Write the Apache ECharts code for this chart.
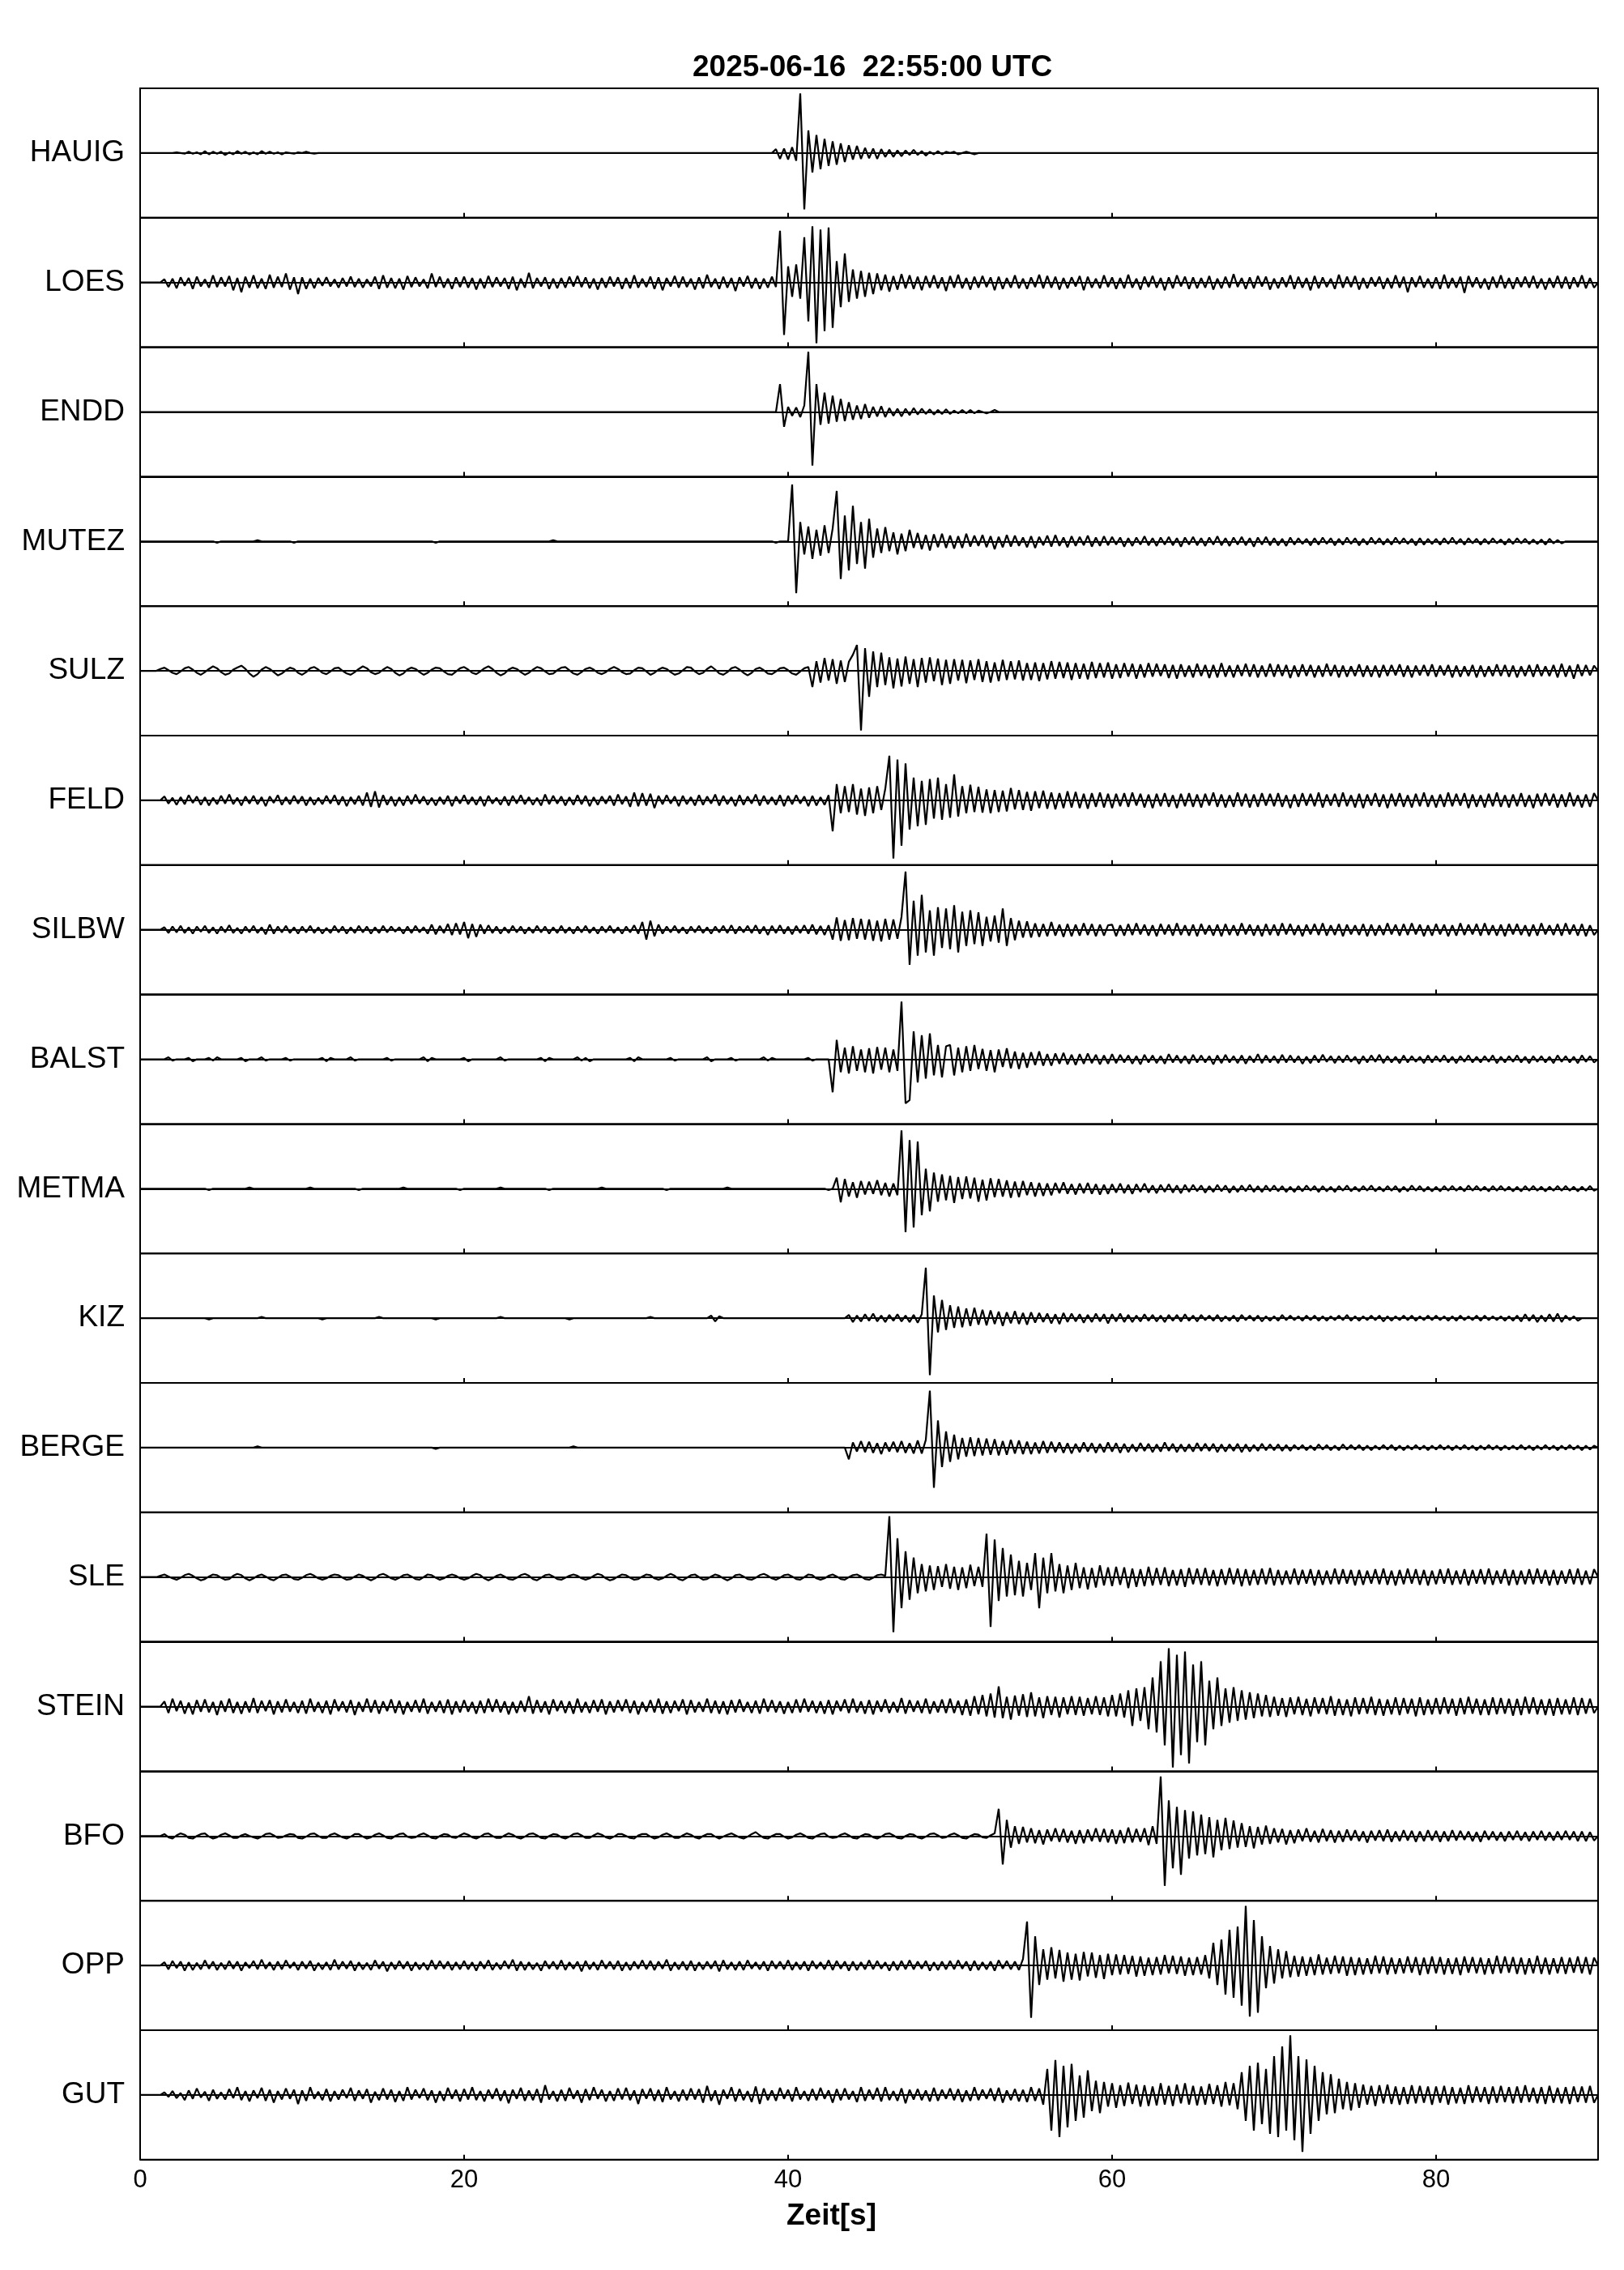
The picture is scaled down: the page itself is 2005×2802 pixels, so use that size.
<!DOCTYPE html>
<html>
<head>
<meta charset="utf-8">
<script src="https://cdn.jsdelivr.net/npm/echarts@6/dist/echarts.min.js"></script>
<style>
  html, body { margin: 0; padding: 0; background: #fff; }
  #chart { width: 2005px; height: 2802px; }
</style>
</head>
<body>
<div id="chart"></div>
<script>
// station names, top to bottom
const stations = ['HAUIG', 'LOES', 'ENDD', 'MUTEZ', 'SULZ', 'FELD', 'SILBW', 'BALST',
  'METMA', 'KIZ', 'BERGE', 'SLE', 'STEIN', 'BFO', 'OPP', 'GUT'];
const title = '2025-06-16  22:55:00 UTC';
const xName = 'Zeit[s]';
// sample spacing in seconds; amplitudes in % of half a panel, 4 samples per second, one row = 10 s
const DT = 0.25;

const hauig = [
  0,0,0,0, 0,0,0,0, 0,1,0,-1, 2,-1,1,-2, 3,-2,2,-1, 2,-3,1,-2, 3,-1,2,-2, 1,-2,3,-1, 2,-1,1,-2, 1,0,-1,1,
  0,2,0,-1, 0,0,0,0, 0,0,0,0, 0,0,0,0, 0,0,0,0, 0,0,0,0, 0,0,0,0, 0,0,0,0, 0,0,0,0, 0,0,0,0,
  0,0,0,0, 0,0,0,0, 0,0,0,0, 0,0,0,0, 0,0,0,0, 0,0,0,0, 0,0,0,0, 0,0,0,0, 0,0,0,0, 0,0,0,0,
  0,0,0,0, 0,0,0,0, 0,0,0,0, 0,0,0,0, 0,0,0,0, 0,0,0,0, 0,0,0,0, 0,0,0,0, 0,0,0,0, 0,6,-9,7,
  -10,9,-12,92, -87,35,-30,28, -25,22,-20,18, -18,15,-14,12, -10,11,-9,8, -8,7,-9,6, -6,5,-6,4, -5,4,-3,5, -3,3,-4,2, -2,3,-2,2,
  0,2,-2,0, 2,0,-2,0, 0,0,0,0, 0,0,0,0, 0,0,0,0, 0,0,0,0, 0,0,0,0, 0,0,0,0, 0,0,0,0, 0,0,0,0,
  0,0,0,0, 0,0,0,0, 0,0,0,0, 0,0,0,0, 0,0,0,0, 0,0,0,0, 0,0,0,0, 0,0,0,0, 0,0,0,0, 0,0,0,0,
  0,0,0,0, 0,0,0,0, 0,0,0,0, 0,0,0,0, 0,0,0,0, 0,0,0,0, 0,0,0,0, 0,0,0,0, 0,0,0,0, 0,0,0,0,
  0,0,0,0, 0,0,0,0, 0,0,0,0, 0,0,0,0, 0,0,0,0, 0,0,0,0, 0,0,0,0, 0,0,0,0, 0,0,0,0, 0,0,0,0, 0
];
const loes = [
  0,0,0,0, 0,0,5,-7, 6,-9,8,-5, 7,-10,9,-6, 5,-8,11,-7, 8,-6,10,-12, 7,-15,9,-8, 11,-9,6,-10, 12,-8,9,-7, 14,-11,8,-18,
  8,-10,6,-9, 7,-5,8,-6, 5,-8,7,-6, 9,-7,6,-8, 5,-6,9,-10, 11,-8,7,-9, 6,-11,10,-7, 8,-6,5,-9, 14,-7,9,-8, 6,-10,8,-7,
  9,-8,7,-11, 6,-9,10,-7, 8,-6,7,-10, 9,-12,6,-8, 15,-9,7,-6, 8,-10,6,-9, 7,-8,9,-6, 10,-7,8,-9, 6,-11,7,-8, 9,-6,8,-10,
  7,-9,11,-8, 6,-7,9,-10, 8,-12,7,-6, 10,-8,9,-7, 6,-11,8,-9, 12,-7,6,-10, 9,-8,7,-13, 8,-6,10,-9, 7,-10,6,-8, 9,-7,80,-81,
  25,-22,28,-25, 70,-60,87,-94, 82,-75,85,-70, 33,-38,45,-30, 20,-25,18,-22, 15,-18,14,-12, 12,-14,10,-11, 13,-9,11,-10, 9,-12,10,-8, 11,-9,8,-13,
  10,-8,12,-9, 7,-11,9,-8, 10,-7,8,-12, 9,-10,7,-8, 11,-9,6,-10, 8,-7,12,-9, 10,-8,9,-11, 7,-9,8,-6, 10,-12,9,-8, 6,-9,11,-7,
  8,-10,7,-9, 12,-8,6,-11, 9,-7,10,-8, 7,-12,8,-9, 11,-6,9,-10, 8,-9,7,-8, 10,-11,6,-9, 9,-8,13,-7, 7,-10,8,-9, 10,-6,9,-11,
  6,-9,8,-7, 11,-10,9,-8, 7,-12,10,-9, 8,-7,6,-10, 12,-8,9,-7, 10,-11,7,-9, 8,-6,9,-10, 7,-9,11,-8, 9,-15,8,-7, 10,-8,6,-9,
  8,-10,12,-9, 7,-8,9,-16, 10,-7,8,-9, 6,-11,9,-8, 11,-9,7,-10, 8,-7,9,-8, 10,-9,6,-11, 7,-8,10,-9, 9,-10,8,-7, 11,-9,7,-8, 0
];
const endd = [
  0,0,0,0, 0,0,0,0, 0,0,0,0, 0,0,0,0, 0,0,0,0, 0,0,0,0, 0,0,0,0, 0,0,0,0, 0,0,0,0, 0,0,0,0,
  0,0,0,0, 0,0,0,0, 0,0,0,0, 0,0,0,0, 0,0,0,0, 0,0,0,0, 0,0,0,0, 0,0,0,0, 0,0,0,0, 0,0,0,0,
  0,0,0,0, 0,0,0,0, 0,0,0,0, 0,0,0,0, 0,0,0,0, 0,0,0,0, 0,0,0,0, 0,0,0,0, 0,0,0,0, 0,0,0,0,
  0,0,0,0, 0,0,0,0, 0,0,0,0, 0,0,0,0, 0,0,0,0, 0,0,0,0, 0,0,0,0, 0,0,0,0, 0,0,0,0, 0,0,43,-23,
  8,-6,7,-8, 10,93,-83,43, -20,30,-18,25, -15,20,-14,15, -12,10,-11,12, -9,8,-7,9, -8,6,-6,5, -7,5,-5,6, -4,5,-3,4, -4,3,-3,4,
  -3,2,-2,3, -2,3,-2,2, 0,-2,0,3, 0,0,0,0, 0,0,0,0, 0,0,0,0, 0,0,0,0, 0,0,0,0, 0,0,0,0, 0,0,0,0,
  0,0,0,0, 0,0,0,0, 0,0,0,0, 0,0,0,0, 0,0,0,0, 0,0,0,0, 0,0,0,0, 0,0,0,0, 0,0,0,0, 0,0,0,0,
  0,0,0,0, 0,0,0,0, 0,0,0,0, 0,0,0,0, 0,0,0,0, 0,0,0,0, 0,0,0,0, 0,0,0,0, 0,0,0,0, 0,0,0,0,
  0,0,0,0, 0,0,0,0, 0,0,0,0, 0,0,0,0, 0,0,0,0, 0,0,0,0, 0,0,0,0, 0,0,0,0, 0,0,0,0, 0,0,0,0, 0
];
const mutez = [
  0,0,0,0, 0,0,0,0, 0,0,0,0, 0,0,0,0, 0,0,0,-2, 0,0,0,0, 0,0,0,0, 0,2,0,0, 0,0,0,0, 0,0,-2,0,
  0,0,0,0, 0,0,0,0, 0,0,0,0, 0,0,0,0, 0,0,0,0, 0,0,0,0, 0,0,0,0, 0,0,0,0, 0,-2,0,0, 0,0,0,0,
  0,0,0,0, 0,0,0,0, 0,0,0,0, 0,0,0,0, 0,0,0,0, 0,0,2,0, 0,0,0,0, 0,0,0,0, 0,0,0,0, 0,0,0,0,
  0,0,0,0, 0,0,0,0, 0,0,0,0, 0,0,0,0, 0,0,0,0, 0,0,0,0, 0,0,0,0, 0,0,0,0, 0,0,0,0, 0,-2,0,0,
  0,88,-80,30, -20,23,-27,18, -22,25,-18,20, 78,-58,40,-45, 55,-35,30,-42, 35,-25,20,-18, 22,-15,14,-20, 12,-15,18,-10, 13,-12,10,-14, 11,-9,12,-10,
  9,-11,8,-10, 12,-8,9,-7, 10,-9,8,-12, 7,-9,10,-8, 9,-7,6,-9, 8,-10,7,-6, 9,-8,10,-7, 6,-9,8,-7, 7,-6,9,-8, 6,-7,8,-6,
  7,-5,6,-8, 5,-7,6,-5, 8,-6,5,-7, 6,-5,7,-6, 5,-8,6,-5, 7,-6,5,-7, 6,-5,8,-6, 5,-7,6,-5, 7,-6,5,-8, 6,-5,7,-6,
  5,-6,4,-7, 6,-5,5,-4, 4,-6,5,-5, 6,-4,5,-6, 4,-5,6,-4, 5,-6,4,-5, 6,-4,5,-5, 4,-5,6,-4, 5,-4,4,-6, 5,-5,4,-4,
  4,-5,5,-4, 6,-4,4,-5, 5,-3,4,-5, 4,-4,5,-3, 3,-5,4,-4, 5,-3,4,-4, 3,-4,3,-5, 4,-3,2,-3, 0,0,0,0, 0,0,0,0, 0
];
const sulz = [
  0,0,0,0, 0,3,5,1, -3,-5,-1,4, 6,2,-3,-6, -2,3,7,4, -2,-6,-4,2, 5,8,3,-4, -9,-5,2,6, 3,-2,-7,-4, 1,5,3,-3,
  -6,-2,4,6, 2,-3,-5,-1, 4,5,0,-4, -6,-2,3,7, 4,-2,-5,-3, 2,6,3,-3, -7,-4,2,5, 3,-2,-6,-3, 2,5,4,-1, -5,-6,-1,4,
  6,2,-3,-5, -1,4,7,3, -3,-7,-4,2, 5,3,-2,-6, -3,2,6,4, -1,-5,-4,1, 5,6,1,-4, -6,-2,3,5, 2,-3,-5,-2, 3,6,3,-2,
  -5,-4,1,5, 4,-1,-6,-3, 2,5,3,-2, -6,-4,1,6, 5,-1,-5,-3, 3,7,2,-4, -6,-2,4,6, 2,-3,-7,-3, 3,5,1,-4, -5,-1,4,5,
  1,-4,-6,-1, 4,6,-25,15, -18,20,-15,18, -20,16,-17,14, 25,40,-92,35, -40,30,-25,28, -22,21,-27,19, -24,22,-20,18, -25,20,-18,21, -16,19,-22,17,
  -20,18,-15,17, -19,16,-14,18, -17,15,-18,13, -16,17,-14,15, -13,16,-15,12, -14,13,-16,12, -13,15,-12,14, -11,13,-14,12, -12,11,-13,14, -11,12,-10,13,
  -12,10,-11,12, -9,11,-12,10, -10,12,-9,11, -8,10,-11,9, -12,10,-9,8, -10,11,-8,9, -11,9,-10,12, -9,8,-10,9, -8,11,-9,10, -10,8,-9,11,
  -9,10,-8,9, -11,8,-9,10, -8,9,-10,8, -9,11,-8,9, -10,8,-9,7, -8,10,-9,8, -9,8,-10,9, -8,9,-7,10, -9,8,-10,8, -7,9,-8,10,
  -9,8,-7,9, -10,8,-9,7, -8,9,-10,8, -9,7,-8,10, -8,9,-9,8, -10,7,-8,9, -9,10,-8,7, -8,9,-10,11, -9,8,-12,10, -8,9,-7,8, 0
];
const feld = [
  0,0,0,0, 0,0,6,-5, 4,-7,5,-6, 8,-4,6,-7, 5,-8,4,-6, 7,-5,9,-6, 4,-8,6,-5, 7,-6,5,-9, 6,-4,8,-7, 5,-6,7,-5,
  6,-8,5,-7, 4,-6,7,-5, 8,-7,6,-9, 5,-6,7,-8, 12,-10,14,-11, 8,-7,6,-9, 5,-8,7,-6, 9,-5,6,-7, 4,-8,5,-6, 7,-9,6,-5,
  8,-6,5,-7, 6,-9,7,-5, 4,-7,6,-8, 7,-5,8,-6, 5,-7,4,-8, 9,-6,7,-5, 6,-8,5,-7, 8,-6,7,-9, 5,-7,6,-5, 7,-8,9,-6,
  6,-10,12,-9, 11,-8,10,-12, 7,-6,8,-5, 6,-9,7,-6, 5,-8,8,-7, 6,-5,9,-8, 7,-6,5,-9, 8,-7,6,-5, 9,-8,7,-6, 5,-7,8,-9,
  7,-6,8,-5, 6,-9,7,-8, 5,-7,8,-48, 25,-20,22,-18, 25,-22,18,-24, 20,-20,22,-15, 18,69,-90,63, -70,57,-45,35, -40,30,-38,33, -28,35,-30,25,
  -27,40,-25,22, -20,24,-18,21, -19,17,-20,16, -18,15,-17,19, -14,16,-15,13, -16,14,-12,15, -13,12,-14,11, -12,14,-11,13, -12,10,-13,11, -10,12,-11,10,
  -12,10,-9,11, -10,12,-8,10, -11,9,-12,10, -9,11,-10,8, -12,10,-9,11, -10,9,-11,10, -8,12,-10,9, -11,8,-10,12, -9,10,-11,9, -10,11,-8,10,
  -9,11,-10,8, -12,9,-10,11, -8,10,-9,12, -11,9,-8,10, -10,12,-9,8, -11,10,-12,9, -8,11,-10,9, -12,10,-9,11, -10,8,-11,10, -9,12,-10,8,
  -11,9,-10,12, -9,10,-8,11, -12,9,-10,8, -11,10,-9,12, -10,8,-11,9, -9,11,-10,8, -12,10,-9,11, -8,10,-11,9, -10,12,-9,8, -11,9,-10,11, 0
];
const silbw = [
  0,0,0,0, 0,0,4,-5, 5,-4,6,-5, 4,-6,5,-3, 6,-5,4,-6, 5,-4,7,-5, 3,-6,5,-4, 6,-5,4,-7, 8,-6,5,-4, 6,-5,4,-6,
  5,-4,6,-5, 4,-6,3,-5, 6,-4,5,-6, 4,-5,6,-4, 5,-6,4,-5, 6,-4,5,-3, 4,-6,5,-5, 6,-4,4,-6, 8,-7,6,-5, 9,-8,10,-7,
  12,-13,9,-11, 8,-6,7,-5, 5,-6,4,-5, 6,-4,5,-6, 4,-5,6,-4, 5,-6,4,-5, 6,-5,4,-6, 5,-4,6,-5, 4,-6,5,-4, 6,-5,4,-6,
  5,-4,7,-6, 12,-15,14,-10, 8,-6,5,-4, 6,-5,4,-6, 5,-4,6,-5, 4,-6,5,-4, 6,-5,7,-6, 5,-4,6,-5, 7,-6,5,-8, 6,-5,7,-6,
  5,-7,6,-5, 7,-6,8,-7, 6,-8,7,-15, 19,-17,15,-16, 18,-14,17,-15, 16,-17,14,-18, 17,-15,16,-14, 20,90,-54,45, -40,54,-35,30, -40,35,-28,33,
  -30,38,-35,28, -25,30,-22,27, -25,20,-18,22, -20,33,-25,18, -16,14,-12,13, -12,10,-11,9, -10,12,-9,8, -11,9,-10,8, -9,10,-8,9, -10,8,-9,7,
  8,-10,7,-9, 9,-8,10,-7, 8,-9,7,-10, 9,-7,8,-9, 10,-8,7,-9, 8,-10,9,-7, 7,-9,8,-10, 9,-8,7,-9, 10,-7,8,-9, 7,-10,9,-8,
  8,-9,10,-7, 9,-8,7,-10, 8,-7,9,-8, 10,-9,7,-8, 9,-10,8,-7, 7,-8,9,-10, 8,-9,7,-8, 10,-7,8,-9, 9,-8,10,-7, 8,-10,7,-9,
  9,-7,8,-10, 7,-9,10,-8, 8,-7,9,-9, 10,-8,7,-9, 8,-10,9,-7, 9,-8,7,-10, 8,-9,10,-7, 7,-8,9,-9, 10,-7,8,-9, 9,-10,7,-8, 0
];
const balst = [
  0,0,0,0, 0,0,0,3, -2,0,0,0, 2,-3,0,0, 0,2,-2,3, 0,0,0,0, 0,2,-3,0, 0,0,3,-2, 0,0,0,0, 2,-2,0,0,
  0,0,0,0, 0,2,-3,2, 0,0,0,0, 3,-2,0,0, 0,0,0,0, 0,2,-2,0, 0,0,0,0, 0,0,3,-3, 2,0,0,0, 0,0,0,0,
  2,-3,0,0, 0,0,0,0, 0,3,-2,0, 0,0,0,0, 0,0,0,2, -3,2,0,0, 0,0,0,0, 3,-2,2,-3, 0,0,0,0, 0,0,0,0,
  0,2,-3,3, 0,0,0,0, 0,0,0,2, -2,0,0,0, 0,0,0,0, 3,-3,0,0, 0,0,2,-2, 0,0,0,0, 0,0,3,-2, 2,0,0,0,
  0,0,0,0, 0,2,-2,0, 0,0,0,-51, 30,-20,18,-22, 20,-18,15,-20, 17,-22,19,-16, 18,-20,15,-18, 89,-68,-63,43, -36,37,-30,40, -25,22,-28,20,
  22,-25,18,-20, 20,-18,22,-15, 16,-18,14,-20, 15,-12,17,-14, 12,-15,10,-13, 11,-9,12,-10, 8,-10,9,-7, 10,-8,7,-9, 8,-7,9,-6, 7,-8,6,-7,
  8,-6,7,-5, 6,-7,5,-8, 7,-5,6,-6, 5,-7,8,-5, 6,-6,5,-7, 7,-5,6,-5, 5,-8,6,-6, 7,-5,5,-6, 6,-7,5,-5, 8,-6,6,-5,
  5,-6,7,-5, 6,-5,5,-7, 4,-6,6,-5, 7,-4,5,-6, 5,-5,6,-4, 4,-7,5,-5, 6,-4,7,-6, 5,-5,4,-6, 6,-5,5,-4, 4,-6,6,-5,
  5,-4,6,-5, 4,-6,5,-4, 6,-5,4,-5, 5,-4,6,-6, 4,-5,5,-4, 6,-5,4,-6, 5,-4,5,-5, 4,-6,6,-4, 5,-5,4,-6, 6,-4,5,-5, 0
];
const metma = [
  0,0,0,0, 0,0,0,0, 0,0,0,0, 0,0,0,0, 0,-2,0,0, 0,0,0,0, 0,0,0,2, 0,0,0,0, 0,0,0,0, 0,0,0,0,
  0,0,2,0, 0,0,0,0, 0,0,0,0, 0,0,-2,0, 0,0,0,0, 0,0,0,0, 0,2,0,0, 0,0,0,0, 0,0,0,0, 0,0,0,-2,
  0,0,0,0, 0,0,0,0, 0,2,0,0, 0,0,0,0, 0,0,0,0, 0,-2,0,0, 0,0,0,0, 0,0,0,0, 0,0,2,0, 0,0,0,0,
  0,0,0,0, 0,0,0,0, 0,0,-2,0, 0,0,0,0, 0,0,0,0, 0,0,0,0, 0,2,0,0, 0,0,0,0, 0,0,0,0, 0,0,0,0,
  0,0,0,0, 0,0,0,0, 0,0,-2,0, 17,-21,15,-12, 10,-14,12,-9, 11,-8,13,-10, 9,-12,8,-10, 90,-67,75,-60, 73,-41,31,-35, 25,-20,22,-18,
  20,-22,18,-16, 19,-15,17,-20, 14,-18,16,-13, 15,-12,13,-14, 11,-13,12,-10, 10,-12,9,-11, 8,-10,9,-7, 10,-8,7,-9, 8,-7,9,-8, 7,-9,6,-8,
  7,-6,8,-7, 6,-8,7,-5, 8,-6,5,-7, 6,-5,7,-6, 5,-7,6,-5, 6,-4,5,-6, 4,-5,6,-4, 5,-6,4,-5, 5,-4,6,-5, 4,-5,5,-4,
  5,-4,4,-5, 3,-5,4,-4, 5,-3,4,-5, 4,-4,3,-5, 4,-3,5,-4, 3,-4,4,-3, 5,-4,3,-4, 4,-3,4,-5, 3,-4,5,-3, 4,-4,3,-4,
  3,-4,4,-3, 4,-3,3,-4, 5,-3,4,-3, 3,-4,4,-3, 4,-3,3,-4, 3,-4,4,-3, 4,-3,3,-4, 3,-3,4,-3, 4,-3,3,-4, 3,-3,4,-3, 0
];
const kiz = [
  0,0,0,0, 0,0,0,0, 0,0,0,0, 0,0,0,0, 0,-2,0,0, 0,0,0,0, 0,0,0,0, 0,0,2,0, 0,0,0,0, 0,0,0,0,
  0,0,0,0, 0,-2,0,0, 0,0,0,0, 0,0,0,0, 0,0,0,2, 0,0,0,0, 0,0,0,0, 0,0,0,0, 0,-2,0,0, 0,0,0,0,
  0,0,0,0, 0,0,0,0, 0,2,0,0, 0,0,0,0, 0,0,0,0, 0,0,0,0, 0,0,-2,0, 0,0,0,0, 0,0,0,0, 0,0,0,0,
  0,0,0,0, 0,0,2,0, 0,0,0,0, 0,0,0,0, 0,0,0,0, 0,4,-5,3, 0,0,0,0, 0,0,0,0, 0,0,0,0, 0,0,0,0,
  0,0,0,0, 0,0,0,0, 0,0,0,0, 0,0,0,5, -6,4,-5,6, -4,7,-5,4, -6,5,-4,6, -5,4,-6,5, -7,6,78,-88, 35,-22,28,-18,
  20,-15,18,-14, 15,-12,16,-10, 13,-11,12,-9, 10,-12,9,-8, 11,-9,8,-10, 9,-7,8,-6, 7,-8,6,-9, 8,-6,7,-5, 6,-7,5,-6, 7,-5,6,-8,
  6,-5,7,-6, 5,-6,4,-5, 6,-4,5,-5, 4,-6,5,-4, 5,-5,6,-4, 4,-5,5,-3, 4,-4,5,-5, 3,-4,4,-5, 5,-3,4,-4, 4,-5,3,-4,
  3,-4,5,-3, 4,-3,3,-4, 4,-3,4,-4, 3,-4,3,-3, 4,-3,5,-4, 3,-4,3,-3, 4,-3,4,-5, 3,-4,3,-3, 4,-3,4,-4, 3,-3,4,-3,
  4,-3,3,-4, 3,-4,4,-3, 3,-3,4,-4, 4,-3,3,-3, 3,-4,3,-4, 4,-5,6,-4, 5,-6,4,-5, 6,-5,7,-6, 4,-3,3,-4, 0,0,0,0, 0
];
const berge = [
  0,0,0,0, 0,0,0,0, 0,0,0,0, 0,0,0,0, 0,0,0,0, 0,0,0,0, 0,0,0,0, 0,2,0,0, 0,0,0,0, 0,0,0,0,
  0,0,0,0, 0,0,0,0, 0,0,0,0, 0,0,0,0, 0,0,0,0, 0,0,0,0, 0,0,0,0, 0,0,0,0, 0,-2,0,0, 0,0,0,0,
  0,0,0,0, 0,0,0,0, 0,0,0,0, 0,0,0,0, 0,0,0,0, 0,0,0,0, 0,0,0,2, 0,0,0,0, 0,0,0,0, 0,0,0,0,
  0,0,0,0, 0,0,0,0, 0,0,0,0, 0,0,0,0, 0,0,0,0, 0,0,0,0, 0,0,0,0, 0,0,0,0, 0,0,0,0, 0,0,0,0,
  0,0,0,0, 0,0,0,0, 0,0,0,0, 0,0,0,-18, 8,-6,10,-7, 9,-8,7,-10, 8,-6,9,-7, 10,-8,7,-9, 11,-9,12,88, -62,42,-30,25,
  -22,20,-18,15, -14,16,-13,15, -12,14,-11,13, -12,10,-11,12, -9,11,-10,9, -10,8,-9,10, -8,9,-7,8, -8,7,-9,6, -7,8,-6,7, -8,6,-7,8,
  -6,7,-8,6, -7,5,-6,7, -5,6,-7,5, -6,8,-5,6, -7,5,-6,5, -6,7,-5,6, -5,6,-7,5, -6,5,-5,6, -7,5,-6,4, -5,6,-4,5,
  -4,5,-5,4, -5,4,-3,4, -4,3,-4,5, -3,4,-4,3, -4,5,-3,4, -3,4,-4,3, -4,3,-3,4, -3,4,-4,3, -4,3,-3,4, -3,3,-4,3,
  -3,4,-3,3, -4,3,-3,4, -3,3,-4,3, -3,4,-3,3, -4,3,-3,3, -3,4,-3,3, -4,3,-3,4, -3,3,-4,3, -3,4,-3,3, -4,3,-3,3, 0
];
const sle = [
  0,0,0,0, 0,2,4,1, -2,-4,-1,3, 5,2,-2,-5, -3,1,4,3, -1,-4,-3,2, 5,3,-2,-5, -2,2,4,1, -3,-5,-1,3, 4,1,-3,-4,
  -1,3,5,2, -2,-4,-2,2, 4,3,-1,-4, -3,1,4,2, -2,-5,-2,3, 5,2,-2,-4, -1,3,4,1, -3,-4,0,4, 3,-1,-4,-2, 2,4,2,-2,
  -4,-2,2,5, 3,-2,-5,-2, 2,4,1,-3, -4,-1,3,5, 2,-3,-5,-1, 3,4,1,-3, -4,-1,2,4, 2,-2,-4,-2, 2,5,3,-2, -5,-3,1,4,
  3,-1,-4,-3, 1,4,3,-2, -4,-2,2,5, 2,-3,-5,-1, 3,4,0,-4, -3,1,4,2, -2,-5,-2,3, 4,1,-3,-4, -1,3,5,2, -2,-4,-1,3,
  4,1,-3,-4, 0,4,3,-2, -4,-2,2,4, 1,-3,-4,0, 3,4,1,-3, -4,-1,3,4, 2,94,-85,60, -48,40,-35,30, -25,20,-22,18, -20,17,-15,20,
  -18,16,-20,15, -17,19,-14,16, -15,67,-77,58, -37,45,-30,35, -28,25,-30,22, -20,37,-48,30, -25,37,-22,20, -25,18,-20,22, -17,15,-19,14, -16,18,-13,15,
  -14,16,-12,15, -17,13,-15,12, -14,16,-13,14, -12,15,-14,11, -13,12,-15,14, -11,13,-12,14, -13,11,-14,12, -12,14,-11,13, -14,12,-13,11, -12,13,-11,14,
  -13,11,-12,10, -11,13,-12,11, -10,12,-13,11, -12,10,-11,13, -11,12,-10,11, -13,11,-12,10, -10,12,-11,13, -12,10,-13,11, -11,13,-10,12, -12,11,-13,10,
  -11,12,-10,13, -12,10,-11,12, -13,11,-10,12, -11,13,-12,10, -10,12,-13,11, -12,10,-11,12, -11,13,-10,11, -13,11,-12,10, -10,12,-11,13, -12,10,-11,12, 0
];
const stein = [
  0,0,0,0, 0,0,8,-10, 12,-7,9,-11, 6,-12,10,-8, 11,-9,7,-13, 9,-8,12,-10, 7,-11,8,-9, 13,-10,9,-7, 10,-12,8,-9, 11,-8,7,-10,
  9,-11,12,-8, 7,-10,9,-12, 11,-7,8,-9, 10,-13,7,-8, 12,-9,10,-11, 8,-7,11,-10, 9,-12,7,-8, 10,-9,12,-11, 7,-8,9,-10, 11,-12,8,-9,
  10,-8,7,-11, 9,-10,12,-8, 11,-9,8,-12, 7,-10,9,-8, 16,-11,10,-9, 8,-12,11,-7, 9,-10,8,-11, 12,-9,7,-10, 10,-8,11,-12, 8,-9,10,-7,
  11,-10,9,-12, 7,-8,10,-9, 12,-11,8,-10, 9,-7,11,-12, 10,-9,7,-8, 12,-10,9,-11, 8,-12,10,-9, 11,-8,7,-10, 9,-11,12,-8, 10,-9,8,-11,
  7,-10,11,-9, 12,-8,9,-10, 8,-11,10,-12, 9,-7,11,-10, 12,-9,8,-11, 10,-12,9,-8, 11,-10,7,-9, 13,-11,10,-8, 9,-10,12,-11, 8,-9,11,-10,
  12,-10,9,-13, 11,-14,16,-12, 18,-15,20,-17, 31,-18,15,-20, 17,-14,19,-16, 22,-15,14,-18, 16,-13,15,-17, 14,-12,16,-13, 15,-14,13,-12, 16,-13,14,-15,
  18,-15,20,-17, 25,-30,28,-22, 30,-35,45,-40, 70,-60,90,-94, 80,-75,85,-88, 65,-55,70,-60, 40,-35,45,-30, 28,-25,30,-22, 25,-20,22,-18, 20,-15,18,-16,
  15,-14,13,-16, 14,-12,15,-13, 12,-15,14,-11, 13,-12,16,-14, 12,-13,11,-15, 14,-12,13,-11, 15,-13,12,-14, 11,-12,14,-13, 13,-11,12,-15, 14,-13,11,-12,
  13,-12,14,-11, 12,-14,13,-12, 15,-11,12,-13, 11,-13,14,-12, 13,-11,12,-14, 12,-13,15,-11, 14,-12,11,-13, 12,-14,13,-12, 11,-12,14,-13, 13,-11,12,-10, 0
];
const bfo = [
  0,0,0,0, 0,0,3,-2, -4,1,4,2, -3,-4,0,3, 4,-1,-4,-2, 2,4,1,-3, -3,1,3,0, -2,-4,-1,3, 4,1,-3,-2, 1,3,2,-3,
  -4,-1,3,4, 0,-3,-3,2, 4,1,-2,-4, -1,3,3,-1, -4,-2,2,4, 1,-3,-4,0, 3,4,-1,-3, -2,2,4,1, -3,-4,0,3, 2,-2,-3,1,
  4,2,-2,-4, -1,3,4,0, -3,-3,1,4, 2,-2,-4,-1, 3,4,1,-3, -4,0,3,2, -2,-4,-1,3, 4,1,-3,-3, 1,4,2,-2, -4,-1,3,3,
  0,-3,-4,1, 3,3,-1,-4, -2,2,4,1, -3,-3,1,4, 2,-2,-4,0, 3,3,-1,-4, -1,2,4,1, -2,-4,-1,3, 6,1,-3,-4, 0,3,3,-1,
  -4,-2,2,4, 1,-3,-4,0, 3,4,-1,-3, -2,2,4,1, -3,-4,0,3, 2,-2,-4,-1, 3,4,1,-3, -4,0,3,2, -2,-4,-1,3, 4,1,-3,-2,
  2,4,1,-3, -4,0,3,2, -2,-3,1,4, 42,-44,25,-18, 15,-12,14,-10, 12,-11,9,-13, 10,-8,12,-9, 11,-10,8,-12, 9,-11,10,-8, 12,-9,11,-10,
  10,-12,9,-11, 13,-10,11,-9, 12,-14,15,-12, 92,-77,55,-50, 45,-60,40,-35, 38,-30,33,-28, 29,-33,25,-22, 28,-20,24,-18, 20,-17,15,-19, 14,-13,16,-12,
  12,-10,11,-13, 9,-11,10,-8, 12,-9,8,-10, 11,-8,9,-10, 8,-9,10,-7, 9,-8,7,-10, 8,-7,9,-8, 10,-9,7,-8, 9,-7,8,-9, 7,-8,9,-7,
  8,-9,7,-8, 9,-7,8,-6, 7,-8,6,-9, 8,-6,7,-7, 6,-8,7,-6, 8,-7,6,-8, 7,-6,8,-7, 6,-7,7,-6, 8,-6,7,-8, 7,-8,6,-7, 0
];
const opp = [
  0,0,0,0, 0,0,5,-6, 7,-4,6,-8, 5,-7,4,-6, 8,-5,6,-7, 4,-6,7,-5, 6,-8,5,-4, 7,-6,9,-5, 5,-7,6,-6, 8,-4,5,-7,
  6,-5,7,-8, 4,-6,5,-7, 9,-6,6,-5, 7,-8,5,-6, 4,-7,8,-5, 6,-9,5,-6, 7,-5,6,-8, 5,-6,4,-7, 8,-6,7,-5, 6,-7,5,-6,
  7,-6,5,-8, 6,-5,8,-7, 4,-6,7,-5, 9,-8,6,-7, 5,-6,4,-8, 7,-5,6,-6, 8,-7,5,-5, 6,-9,7,-6, 5,-7,8,-5, 6,-6,7,-8,
  5,-7,6,-5, 8,-6,7,-7, 6,-5,9,-8, 5,-6,6,-7, 7,-8,5,-6, 6,-5,7,-9, 8,-6,5,-7, 6,-7,8,-5, 5,-6,6,-8, 7,-5,6,-6,
  8,-7,5,-6, 6,-8,7,-5, 5,-6,8,-7, 7,-5,6,-8, 6,-7,5,-6, 8,-6,7,-5, 5,-8,6,-7, 7,-6,8,-6, 6,-5,7,-8, 5,-7,6,-6,
  7,-6,8,-5, 6,-8,7,-7, 5,-6,6,-8, 8,-5,7,-6, 6,-7,10,68, -81,45,-30,25, -22,28,-20,24, -25,20,-22,18, -23,21,-17,20, -19,16,-21,18,
  -15,17,-14,16, -13,15,-17,14, -16,12,-15,13, -14,16,-12,15, -13,14,-16,12, -15,13,-14,16, -20,35,-30,40, -45,55,-50,60, -62,92,-79,70, -73,45,-35,30,
  -28,25,-20,22, -18,15,-17,14, -16,13,-15,17, -14,12,-13,15, -12,14,-16,13, -15,12,-14,11, -13,15,-12,14, -14,12,-13,11, -12,14,-11,13, -15,12,-13,14,
  -12,13,-14,11, -13,12,-15,14, -11,13,-12,12, -14,11,-13,15, -12,14,-11,13, -13,12,-14,11, -12,15,-13,12, -14,11,-12,13, -13,12,-11,14, -12,13,-14,12, 0
];
const gut = [
  0,0,0,0, 0,0,4,-3, 6,-5,3,-8, 7,-6,10,-4, 5,-9,8,-6, 4,-7,9,-5, 12,-8,6,-10, 7,-5,11,-9, 8,-12,6,-7, 10,-6,8,-14,
  7,-9,12,-6, 5,-8,9,-10, 6,-7,8,-5, 11,-9,7,-6, 9,-12,5,-8, 10,-7,8,-11, 6,-9,12,-7, 8,-5,10,-8, 7,-12,6,-9, 11,-6,8,-10,
  9,-7,12,-8, 6,-10,8,-6, 10,-9,7,-13, 8,-6,11,-9, 7,-8,9,-12, 15,-7,6,-10, 8,-9,11,-6, 7,-12,9,-8, 12,-6,8,-10, 6,-9,10,-7,
  11,-8,7,-14, 9,-6,10,-9, 8,-11,12,-7, 6,-10,8,-8, 10,-7,9,-12, 14,-9,7,-15, 8,-6,12,-10, 9,-8,6,-11, 13,-14,10,-8, 7,-9,11,-6,
  8,-10,12,-7, 6,-9,9,-8, 11,-6,7,-12, 9,-8,10,-7, 6,-11,12,-9, 8,-7,11,-10, 12,-8,6,-9, 10,-13,8,-7, 9,-8,7,-10, 11,-9,8,-6,
  10,-8,9,-11, 7,-9,12,-8, 8,-6,10,-9, 11,-12,7,-8, 9,-10,8,-11, 12,-9,10,-15, 40,-55,54,-65, 45,-50,48,-40, 30,-35,38,-25, 22,-28,20,-18,
  18,-20,15,-17, 19,-14,16,-18, 15,-17,13,-16, 18,-15,14,-17, 16,-13,18,-15, 14,-16,13,-15, 17,-14,15,-18, 20,-16,18,-22, 35,-40,45,-55, 50,-45,40,-60,
  60,-65,75,-55, 92,-70,60,-88, 55,-60,45,-40, 35,-30,32,-28, 25,-22,20,-24, 18,-20,16,-15, 14,-17,15,-13, 16,-14,13,-15, 12,-14,15,-13, 14,-12,13,-15,
  13,-12,14,-15, 12,-13,11,-14, 15,-12,13,-11, 12,-14,13,-12, 14,-11,12,-13, 13,-12,15,-11, 11,-13,12,-14, 14,-12,11,-13, 12,-14,13,-11, 13,-12,14,-12, 0
];
const traces = [hauig, loes, endd, mutez, sulz, feld, silbw, balst, metma, kiz, berge, sle, stein, bfo, opp, gut];

const FONT = '"Liberation Sans", Arial, Helvetica, sans-serif';
const chart = echarts.init(document.getElementById('chart'));

const plotTop = 109, panelH = 159.8;
const grid = [], xAxis = [], yAxis = [], series = [];

stations.forEach((name, k) => {
  const last = k === stations.length - 1;
  grid.push({
    left: 173, width: 1800, top: plotTop + k * panelH, height: panelH,
    show: true, borderColor: '#000', borderWidth: 2, backgroundColor: 'transparent'
  });
  xAxis.push({
    type: 'value', gridIndex: k, min: 0, max: 90, interval: 20,
    axisLine: { show: false, onZero: false },
    axisTick: { show: true, inside: true, length: 6, lineStyle: { color: '#000', width: 2 } },
    splitLine: { show: false },
    axisLabel: { show: last, showMaxLabel: false, color: '#000', fontSize: 31, fontFamily: FONT, margin: 10 }
  });
  yAxis.push({
    type: 'value', gridIndex: k, min: -100, max: 100, interval: 100,
    axisLine: { show: false, onZero: false },
    axisTick: { show: false },
    splitLine: { show: true, lineStyle: { color: '#000', width: 2 } },
    axisLabel: {
      color: '#000', fontSize: 37, fontFamily: FONT, margin: 19,
      formatter: v => (v === 0 ? name : '')
    }
  });
  series.push({
    type: 'line', xAxisIndex: k, yAxisIndex: k,
    data: traces[k].map((v, i) => [i * DT, v]),
    showSymbol: false, silent: true,
    lineStyle: { color: '#000', width: 2.2 }
  });
});

chart.setOption({
  backgroundColor: '#fff',
  animation: false,
  grid, xAxis, yAxis, series,
  graphic: [
    { type: 'text', left: 1079 - 224, top: 65,
      style: { text: title, fontSize: 37, fontWeight: 'bold', fontFamily: FONT, fill: '#000' } },
    { type: 'text', left: 1027 - 56, top: 2717,
      style: { text: xName, fontSize: 37, fontWeight: 'bold', fontFamily: FONT, fill: '#000' } }
  ]
});
</script>
</body>
</html>
